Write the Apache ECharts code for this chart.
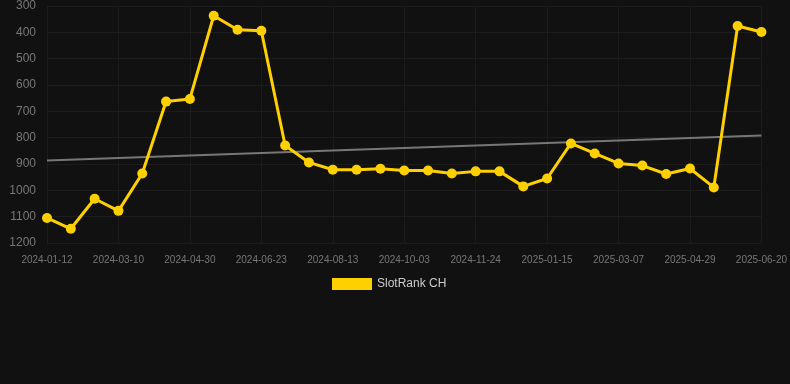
<!DOCTYPE html>
<html>
<head>
<meta charset="utf-8">
<script src="https://cdn.jsdelivr.net/npm/echarts@6/dist/echarts.min.js"></script>
<style>
html,body{margin:0;padding:0;background:#111111;}
#chart{width:790px;height:384px;}
</style>
</head>
<body>
<div id="chart"></div>
<script>
var categories = [
  "2024-01-12","2024-01-31","2024-02-19","2024-03-10","2024-03-27","2024-04-13",
  "2024-04-30","2024-05-18","2024-06-05","2024-06-23","2024-07-10","2024-07-27",
  "2024-08-13","2024-08-30","2024-09-16","2024-10-03","2024-10-20","2024-11-06",
  "2024-11-24","2024-12-11","2024-12-28","2025-01-15","2025-02-01","2025-02-18",
  "2025-03-07","2025-03-25","2025-04-11","2025-04-29","2025-05-16","2025-06-02",
  "2025-06-20"
];
var rankValues = [
  1105, 1146, 1032, 1078, 936, 663, 653, 337, 390, 394,
  830, 894, 922, 922, 918, 925, 925, 936, 928, 928,
  985, 955, 822, 860, 898, 906, 938, 917, 989, 376,
  399
];
var trendStart = 887;
var trendEnd = 792;
var yTicks = [300, 1200, 100];

var trendData = categories.map(function (c, i) {
  if (i === 0) return trendStart;
  if (i === categories.length - 1) return trendEnd;
  return null;
});

var chart = echarts.init(document.getElementById('chart'));
chart.setOption({
  backgroundColor: '#111111',
  animation: false,
  grid: { left: 47, right: 28, top: 6, height: 237, containLabel: false },
  legend: {
    top: 273,
    left: 327,
    itemWidth: 40,
    itemHeight: 12,
    itemGap: 10,
    data: [{ name: 'SlotRank CH', icon: 'rect' }],
    textStyle: { color: '#cccccc', fontSize: 12, fontFamily: 'Arial, Liberation Sans, sans-serif' }
  },
  xAxis: {
    type: 'category',
    data: categories,
    boundaryGap: false,
    axisLine: { show: false },
    axisTick: { show: false },
    axisLabel: {
      interval: 2,
      color: '#777777',
      fontSize: 10,
      margin: 12,
      fontFamily: 'Arial, Liberation Sans, sans-serif'
    },
    splitLine: { show: true, interval: 2, lineStyle: { color: '#1c1c1c', width: 1 } }
  },
  yAxis: {
    type: 'value',
    inverse: true,
    min: yTicks[0],
    max: yTicks[1],
    interval: yTicks[2],
    axisLine: { show: false },
    axisTick: { show: false },
    axisLabel: {
      color: '#777777',
      fontSize: 12,
      margin: 11,
      formatter: function (v) { return String(v); },
      fontFamily: 'Arial, Liberation Sans, sans-serif'
    },
    splitLine: { show: true, lineStyle: { color: '#1c1c1c', width: 1 } }
  },
  series: [
    {
      name: 'SlotRank CH',
      type: 'line',
      data: rankValues,
      color: '#FFD000',
      lineStyle: { color: '#FFD000', width: 3 },
      itemStyle: { color: '#FFD000' },
      symbol: 'circle',
      symbolSize: 10,
      z: 3
    },
    {
      name: 'trend',
      type: 'line',
      data: trendData,
      connectNulls: true,
      symbol: 'none',
      lineStyle: { color: '#777777', width: 2 },
      itemStyle: { color: '#777777' },
      z: 2,
      silent: true
    }
  ]
});
</script>
</body>
</html>
